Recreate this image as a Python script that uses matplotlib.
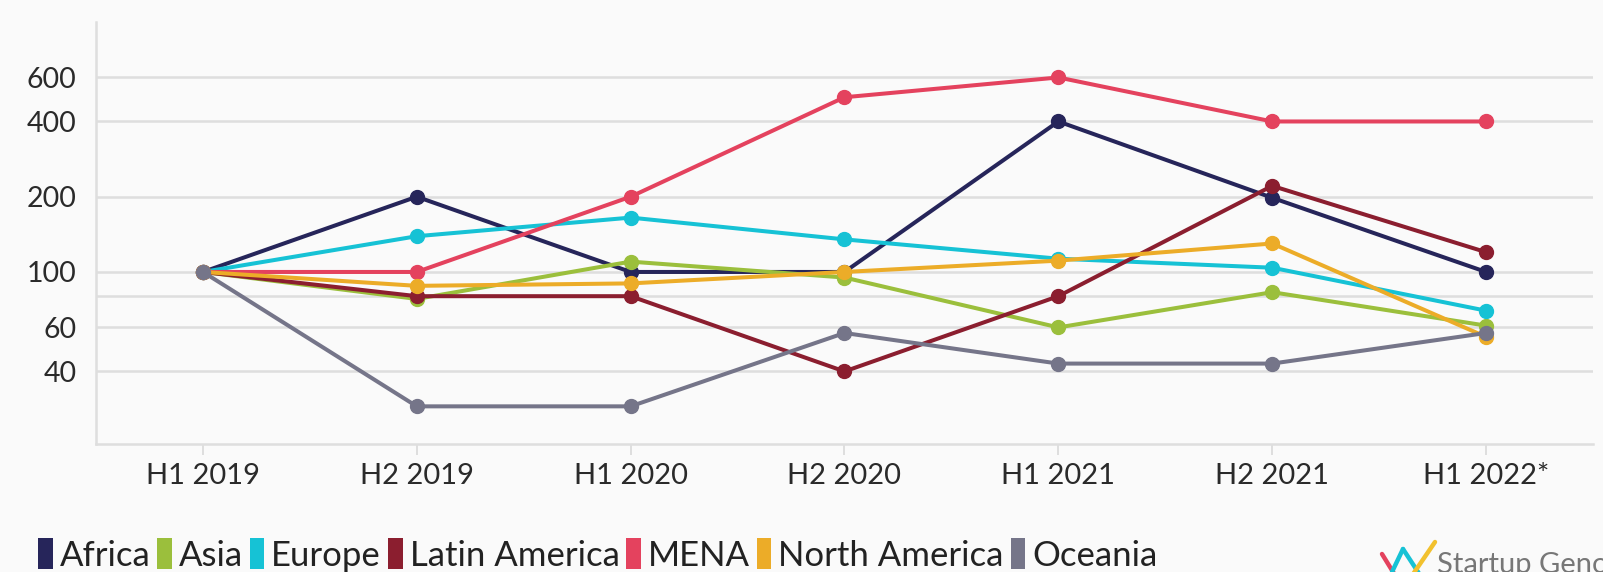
import matplotlib
matplotlib.use("Agg")
import matplotlib.pyplot as plt
from matplotlib.patches import Patch
from matplotlib.lines import Line2D

plt.rcParams['font.family'] = ['Lato', 'DejaVu Sans']

periods = ["H1 2019", "H2 2019", "H1 2020", "H2 2020", "H1 2021", "H2 2021", "H1 2022*"]

regions = ["Africa", "Asia", "Europe", "Latin America", "MENA", "North America", "Oceania"]
colors = ["#26255a", "#9bbf3c", "#16c2d5", "#8b1e2f", "#e4425e", "#ecac28", "#757589"]

africa = [100, 200, 100, 100, 400, 198, 100]
asia = [100, 78, 110, 95, 60, 83, 61]
europe = [100, 139, 165, 135, 113, 104, 70]
latin_america = [100, 80, 80, 40, 80, 221, 120]
mena = [100, 100, 200, 500, 600, 400, 400]
north_america = [100, 88, 90, 100, 111, 130, 55]
oceania = [100, 29, 29, 57, 43, 43, 57]
series = [africa, asia, europe, latin_america, mena, north_america, oceania]

yticks = [40, 60, 80, 100, 200, 400, 600]
ytick_labels = ["40", "60", "", "100", "200", "400", "600"]

bg = "#fafafa"
grid = "#dedede"

fig = plt.figure(figsize=(16.03, 5.72), dpi=100, facecolor=bg)
ax = fig.add_axes([96 / 1603, 1 - 444 / 572, (1593 - 96) / 1603, (444 - 22) / 572])
ax.set_facecolor(bg)

x = list(range(len(periods)))
for vals, c in zip(series, colors):
    ax.plot(x, vals, color=c, lw=2.9, marker="o", ms=10, zorder=3)

ax.set_yscale("log")
ax.set_ylim(20.5, 1000)
ax.set_xlim(-0.5, 6.5)
ax.set_yticks(yticks)
ax.set_yticklabels(ytick_labels)
ax.minorticks_off()
ax.yaxis.grid(True, color=grid, lw=1.8, zorder=0)
ax.set_xticks(x)
ax.set_xticklabels(periods)

ax.tick_params(axis="y", length=0, pad=14, labelsize=20.5, labelcolor="#2a2a2a")
ax.tick_params(axis="x", length=8, width=1.4, color=grid, pad=6, labelsize=21, labelcolor="#2a2a2a")

for side in ["top", "right"]:
    ax.spines[side].set_visible(False)
for side in ["left", "bottom"]:
    ax.spines[side].set_color(grid)
    ax.spines[side].set_linewidth(1.8)

handles = [Patch(facecolor=c, edgecolor="none") for c in colors]
fig.legend(handles, regions, loc="center left", bbox_to_anchor=(38 / 1603, 1 - 555 / 572),
           ncol=len(regions), frameon=False, fontsize=25, handlelength=0.42, handleheight=1.0,
           handletextpad=0.2, columnspacing=0.2, borderpad=0, borderaxespad=0,
           labelcolor="#222222")

# logo strokes and wordmark in the lower right corner
logo = [((1382, 554), (1398, 580), "#e4425e"),
        ((1392, 572), (1403, 549), "#16c2d5"),
        ((1403, 549), (1420, 575), "#16c2d5"),
        ((1435, 542), (1409, 580), "#f2c12e")]
for (x0, y0), (x1, y1), c in logo:
    fig.add_artist(Line2D([x0 / 1603, x1 / 1603], [1 - y0 / 572, 1 - y1 / 572],
                          transform=fig.transFigure, color=c, lw=3.2, solid_capstyle="round"))
fig.text(1437 / 1603, 1 - 573 / 572, "Startup Genome", fontsize=21, color="#777777",
         ha="left", va="baseline")

fig.savefig("out.png", dpi=100, facecolor=bg)
